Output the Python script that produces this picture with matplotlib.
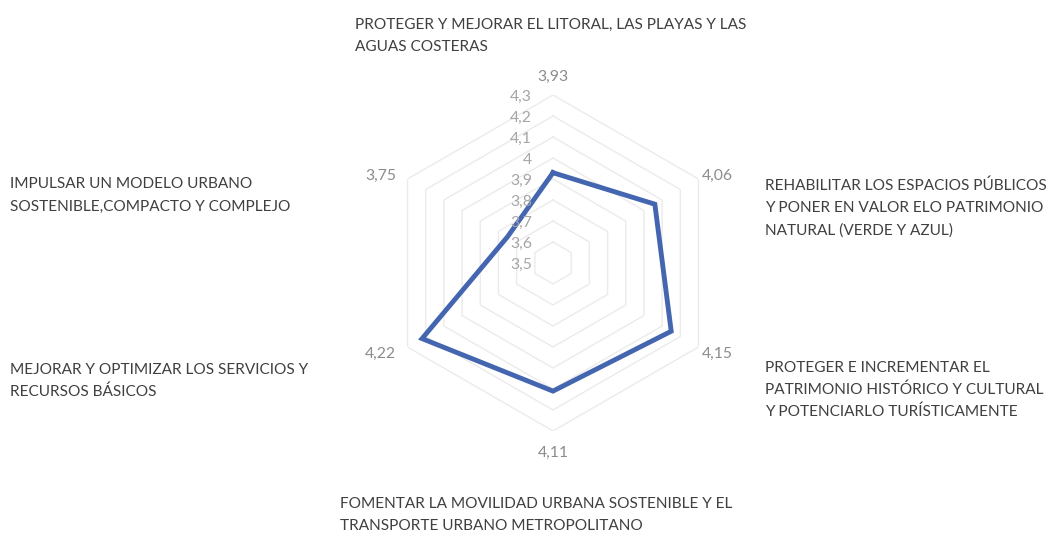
import matplotlib.pyplot as plt
import numpy as np

plt.rcParams['font.family'] = ['Lato', 'DejaVu Sans']

# scores per objective, clockwise from the top
values = [3.93, 4.06, 4.15, 4.11, 4.22, 3.75]
value_labels = ['3,93', '4,06', '4,15', '4,11', '4,22', '3,75']
ring_levels = [3.6, 3.7, 3.8, 3.9, 4.0, 4.1, 4.2, 4.3]
ring_labels = ['3,5', '3,6', '3,7', '3,8', '3,9', '4', '4,1', '4,2', '4,3']
ring_ticks = [3.5, 3.6, 3.7, 3.8, 3.9, 4.0, 4.1, 4.2, 4.3]
objectives = [
    ['PROTEGER Y MEJORAR EL LITORAL, LAS PLAYAS Y LAS', 'AGUAS COSTERAS'],
    ['REHABILITAR LOS ESPACIOS PÚBLICOS', 'Y PONER EN VALOR ELO PATRIMONIO',
     'NATURAL (VERDE Y AZUL)'],
    ['PROTEGER E INCREMENTAR EL', 'PATRIMONIO HISTÓRICO Y CULTURAL',
     'Y POTENCIARLO TURÍSTICAMENTE'],
    ['FOMENTAR LA MOVILIDAD URBANA SOSTENIBLE Y EL', 'TRANSPORTE URBANO METROPOLITANO'],
    ['MEJORAR Y OPTIMIZAR LOS SERVICIOS Y', 'RECURSOS BÁSICOS'],
    ['IMPULSAR UN MODELO URBANO', 'SOSTENIBLE,COMPACTO Y COMPLEJO'],
]
# left edge and first-line middle of each objective block, in pixels
objective_pos = [(355, 23), (765, 184), (765, 366), (340, 502), (10, 368), (10, 183)]
line_step = 22.5

W, H = 1057, 535
fig = plt.figure(figsize=(W / 100, H / 100), dpi=100)
cx, cy, R = 553, 263, 168
ax = fig.add_axes([(cx - R) / W, (H - cy - R) / H, 2 * R / W, 2 * R / H], polar=True)
ax.set_theta_zero_location('N')
ax.set_theta_direction(-1)
ax.set_ylim(3.5, 4.3)
ax.axis('off')

n = len(values)
angles = np.linspace(0, 2 * np.pi, n, endpoint=False)
closed = np.append(angles, angles[0])

# hexagonal grid rings
for lvl in ring_levels:
    ax.plot(closed, [lvl] * (n + 1), color='#ebebeb', lw=1.0, zorder=1)

ax.plot(closed, values + values[:1], color='#4466b0', lw=3.5,
        solid_joinstyle='miter', zorder=3)

# radial axis labels just left of the vertical axis
for t, lab in zip(ring_ticks, ring_labels):
    r = (t - 3.5) / 0.8 * R
    fig.text((cx - 21) / W, (H - cy + r - 5.5) / H, lab, ha='right', va='baseline',
             fontsize=11.3, color='#a6a6a6')

# value labels outside each vertex
for ang, lab in zip(angles, value_labels):
    s, c = np.sin(ang), np.cos(ang)
    x = cx + (R + 22) * s
    if s < -0.1:
        x -= 8
    y = cy - c * (R + 20 * abs(c))
    fig.text(x / W, (H - y - 5.5) / H, lab, ha='center', va='baseline',
             fontsize=11.3, color='#8c8c8c')

for lines, (x, y0) in zip(objectives, objective_pos):
    for i, line in enumerate(lines):
        y = y0 + i * line_step + 5.5
        fig.text(x / W, (H - y) / H, line, ha='left', va='baseline',
                 fontsize=11.1, color='#404040')

fig.savefig('out.png', dpi=100, facecolor='white')
